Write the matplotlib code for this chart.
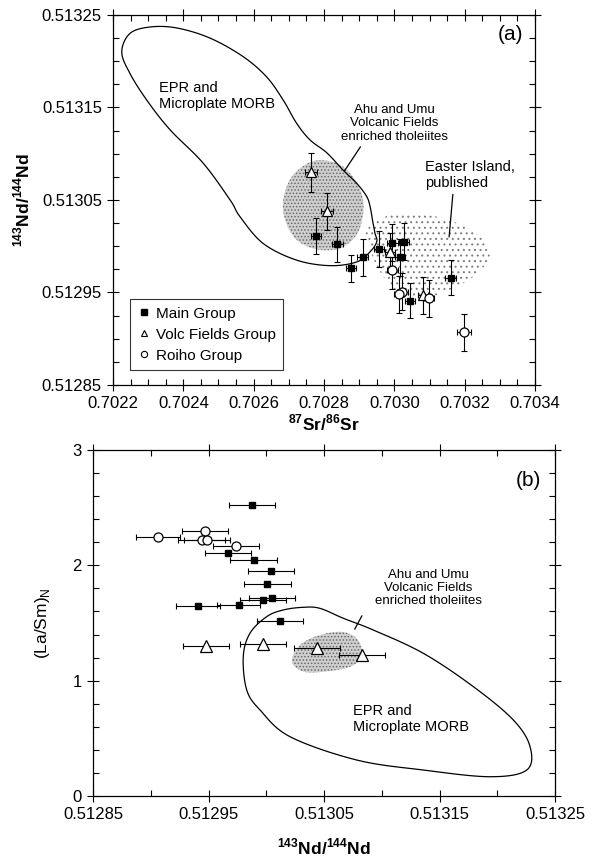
import numpy as np
import matplotlib
matplotlib.use("Agg")
import matplotlib.pyplot as plt
from matplotlib.patches import Polygon
from matplotlib.lines import Line2D
from matplotlib.ticker import MultipleLocator, FixedLocator, FormatStrFormatter

# ---- panel (a): 87Sr/86Sr vs 143Nd/144Nd ----
main_sr = [0.702777, 0.702838, 0.702910, 0.702877, 0.702957, 0.702994, 0.703027, 0.703016, 0.703044, 0.703160]
main_nd_a = [0.513011, 0.513002, 0.512988, 0.512976, 0.512997, 0.513004, 0.513005, 0.512988, 0.512941, 0.512966]
main_sr_err = [0.000015] * 10
main_nd_err_a = [0.000019, 0.000019, 0.00002, 0.000015, 0.00002, 0.00002, 0.00002, 0.00002, 0.000019, 0.000019]

volc_sr = [0.702762, 0.702809, 0.702988, 0.703082]
volc_nd_a = [0.513080, 0.513038, 0.512994, 0.512947]
volc_sr_err = [0.000017, 0.000017, 0.000015, 0.000015]
volc_nd_err_a = [0.000021, 0.00002, 0.00002, 0.00002]

roiho_sr = [0.702994, 0.703023, 0.703013, 0.703098, 0.703198]
roiho_nd_a = [0.512974, 0.512951, 0.512948, 0.512944, 0.512907]
roiho_sr_err = [0.000015, 0.000015, 0.000015, 0.000015, 0.00002]
roiho_nd_err_a = [0.00002, 0.00002, 0.00002, 0.00002, 0.00002]

# field outlines (a)
epr_a_sr = [0.702225, 0.702248, 0.702305, 0.702381, 0.702476, 0.702570, 0.702637, 0.702684,
            0.702722, 0.702760, 0.702808, 0.702855, 0.702893, 0.702921, 0.702931, 0.702938,
            0.702945, 0.702950, 0.702931, 0.702893, 0.702817, 0.702722, 0.702627, 0.702561,
            0.702533, 0.702456, 0.702362, 0.702296, 0.702248]
epr_a_nd = [0.513210, 0.513230, 0.513237, 0.513236, 0.513225, 0.513205, 0.513183, 0.513158,
            0.513133, 0.513115, 0.513101, 0.513082, 0.513068, 0.513054, 0.513043, 0.513028,
            0.513014, 0.513005, 0.512994, 0.512983, 0.512979, 0.512985, 0.513003, 0.513032,
            0.513050, 0.513090, 0.513126, 0.513158, 0.513187]
ahu_a_sr = [0.702683, 0.702703, 0.702746, 0.702789, 0.702846, 0.702888, 0.702911, 0.702908,
            0.702888, 0.702846, 0.702789, 0.702732, 0.702698]
ahu_a_nd = [0.513045, 0.513072, 0.513088, 0.513093, 0.513088, 0.513072, 0.513050, 0.513028,
            0.513010, 0.512998, 0.512996, 0.513004, 0.513020]
easter_sr = [0.702919, 0.702945, 0.702993, 0.703073, 0.703158, 0.703229, 0.703269, 0.703264,
             0.703221, 0.703158, 0.703087, 0.703030, 0.702988, 0.702954, 0.702931]
easter_nd = [0.513015, 0.513026, 0.513034, 0.513035, 0.513028, 0.513015, 0.512999, 0.512983,
             0.512966, 0.512953, 0.512944, 0.512946, 0.512958, 0.512976, 0.512996]

# ---- panel (b): 143Nd/144Nd vs (La/Sm)N ----
main_nd_b = [0.512988, 0.512967, 0.512989, 0.513004, 0.513001, 0.513005, 0.512997, 0.512976, 0.512941, 0.513012]
main_lasm = [2.52, 2.11, 2.05, 1.95, 1.84, 1.72, 1.70, 1.66, 1.65, 1.52]
main_nd_err_b = [0.00002, 0.00002, 0.00002, 0.00002, 0.00002, 0.00002, 0.00002, 0.000019, 0.000019, 0.00002]

volc_nd_b = [0.512948, 0.512997, 0.513044, 0.513083]
volc_lasm = [1.30, 1.32, 1.28, 1.22]
volc_nd_err_b = [0.00002, 0.00002, 0.00002, 0.00002]

roiho_nd_b = [0.512906, 0.512947, 0.512944, 0.512949, 0.512974]
roiho_lasm = [2.25, 2.30, 2.22, 2.22, 2.17]
roiho_nd_err_b = [0.000019, 0.00002, 0.00002, 0.00002, 0.00002]

epr_b_nd = [0.513032, 0.5130465, 0.5130667, 0.5130927, 0.513136, 0.5131793, 0.5132139, 0.5132284,
            0.5132255, 0.5131937, 0.513136, 0.5130783, 0.5130206, 0.5129946, 0.5129831, 0.5129801,
            0.5129859, 0.5130004, 0.5130148]
epr_b_lasm = [1.636, 1.627, 1.541, 1.439, 1.237, 0.948, 0.659, 0.427,
              0.225, 0.167, 0.225, 0.312, 0.514, 0.746, 0.919, 1.208,
              1.411, 1.555, 1.613]
ahu_b_nd = [0.5130223, 0.5130292, 0.5130465, 0.5130665, 0.5130794, 0.5130829, 0.5130742, 0.5130552, 0.5130335]
ahu_b_lasm = [1.162, 1.309, 1.396, 1.422, 1.353, 1.223, 1.127, 1.084, 1.075]

plt.rcParams['font.family'] = ['Liberation Sans', 'DejaVu Sans']
plt.rcParams['mathtext.fontset'] = 'custom'
plt.rcParams['mathtext.rm'] = 'Liberation Sans'
plt.rcParams['mathtext.bf'] = 'Liberation Sans:bold'
plt.rcParams['hatch.linewidth'] = 0.7


def smooth_closed(xs, ys, n=16):
    # closed Catmull-Rom curve through the outline vertices
    p = np.column_stack([xs, ys])
    m = len(p)
    t = np.linspace(0, 1, n, endpoint=False)[:, None]
    out = []
    for i in range(m):
        p0, p1, p2, p3 = p[i - 1], p[i], p[(i + 1) % m], p[(i + 2) % m]
        out.append(0.5 * ((2 * p1) + (-p0 + p2) * t + (2 * p0 - 5 * p1 + 4 * p2 - p3) * t ** 2
                          + (-p0 + 3 * p1 - 3 * p2 + p3) * t ** 3))
    return np.vstack(out)


def style_axes(ax):
    ax.tick_params(which='both', top=True, right=True, labelsize=12, width=0.8)
    ax.tick_params(which='major', direction='inout', length=9)
    ax.tick_params(which='minor', direction='in', length=4)
    for s in ax.spines.values():
        s.set_linewidth(0.9)


fig = plt.figure(figsize=(5.95, 8.57), dpi=100)
ax1 = fig.add_axes([0.1899, 0.5508, 0.7093, 0.4317])
ax2 = fig.add_axes([0.1563, 0.0712, 0.7765, 0.4037])

eb = dict(fmt='none', ecolor='black', elinewidth=0.8, capsize=2.5, capthick=0.8, zorder=3)

# ---------------- (a) ----------------
ax1.add_patch(Polygon(smooth_closed(easter_sr, easter_nd), closed=True, facecolor='white',
                      edgecolor='#7a7a7a', linewidth=0, hatch='...', zorder=1))
ax1.add_patch(Polygon(smooth_closed(ahu_a_sr, ahu_a_nd), closed=True, facecolor='#cfcfcf',
                      edgecolor='#6a6a6a', linewidth=0, hatch='.....', zorder=1))
ax1.add_patch(Polygon(smooth_closed(epr_a_sr, epr_a_nd), closed=True, fill=False,
                      edgecolor='black', linewidth=0.9, zorder=2))

ax1.errorbar(main_sr, main_nd_a, xerr=main_sr_err, yerr=main_nd_err_a, **eb)
ax1.errorbar(volc_sr, volc_nd_a, xerr=volc_sr_err, yerr=volc_nd_err_a, **eb)
ax1.errorbar(roiho_sr, roiho_nd_a, xerr=roiho_sr_err, yerr=roiho_nd_err_a, **eb)
ax1.plot(main_sr, main_nd_a, 's', ms=5, mfc='black', mec='black', ls='none', zorder=4)
ax1.plot(volc_sr, volc_nd_a, '^', ms=7, mfc='white', mec='black', mew=0.9, ls='none', zorder=4)
ax1.plot(roiho_sr, roiho_nd_a, 'o', ms=6.5, mfc='white', mec='black', mew=0.9, ls='none', zorder=4)

ax1.set_xlim(0.7022, 0.7034)
ax1.set_ylim(0.51285, 0.51325)
ax1.xaxis.set_major_locator(FixedLocator([0.7022, 0.7024, 0.7026, 0.7028, 0.7030, 0.7032, 0.7034]))
ax1.xaxis.set_minor_locator(MultipleLocator(0.00005))
ax1.yaxis.set_major_locator(FixedLocator([0.51285, 0.51295, 0.51305, 0.51315, 0.51325]))
ax1.yaxis.set_minor_locator(MultipleLocator(0.000025))
ax1.xaxis.set_major_formatter(FormatStrFormatter('%.4f'))
ax1.yaxis.set_major_formatter(FormatStrFormatter('%.5f'))
style_axes(ax1)

ax1.set_xlabel(r'$^{\mathbf{87}}$Sr/$^{\mathbf{86}}$Sr', fontsize=12.5, fontweight='bold')
ax1.set_ylabel(r'$^{\mathbf{143}}$Nd/$^{\mathbf{144}}$Nd', fontsize=12.5, fontweight='bold')
ax1.xaxis.set_label_coords(0.5, -0.075)
ax1.yaxis.set_label_coords(-0.192, 0.5)

ax1.text(0.941, 0.946, '(a)', transform=ax1.transAxes, fontsize=15, ha='center', va='center')
ax1.text(0.702331, 0.513162, 'EPR and\nMicroplate MORB', fontsize=10.5, ha='left', va='center')
ax1.text(0.7030, 0.513133, 'Ahu and Umu\nVolcanic Fields\nenriched tholeiites', fontsize=9.5,
         ha='center', va='center', linespacing=1.15)
ax1.annotate('', xy=(0.702854, 0.513079), xytext=(0.702908, 0.51311),
             arrowprops=dict(arrowstyle='-', lw=0.9, color='black'))
ax1.text(0.703087, 0.513077, 'Easter Island,\npublished', fontsize=10.5, ha='left', va='center')
ax1.annotate('', xy=(0.703155, 0.513007), xytext=(0.703167, 0.513059),
             arrowprops=dict(arrowstyle='-', lw=0.9, color='black'))

handles = [Line2D([], [], marker='s', ms=4.5, mfc='black', mec='black', ls='none'),
           Line2D([], [], marker='^', ms=5, mfc='white', mec='black', mew=0.8, ls='none'),
           Line2D([], [], marker='o', ms=4.5, mfc='white', mec='black', mew=0.8, ls='none')]
leg = ax1.legend(handles, ['Main Group', 'Volc Fields Group', 'Roiho Group'],
                 loc='lower left', bbox_to_anchor=(0.04, 0.04), borderaxespad=0,
                 fontsize=11, frameon=True, fancybox=False, edgecolor='black',
                 handlelength=0.8, handletextpad=0.4, labelspacing=0.45, borderpad=0.5)
leg.get_frame().set_linewidth(0.8)

# ---------------- (b) ----------------
ax2.add_patch(Polygon(smooth_closed(ahu_b_nd, ahu_b_lasm), closed=True, facecolor='#cfcfcf',
                      edgecolor='#6a6a6a', linewidth=0, hatch='.....', zorder=1))
ax2.add_patch(Polygon(smooth_closed(epr_b_nd, epr_b_lasm), closed=True, fill=False,
                      edgecolor='black', linewidth=0.9, zorder=2))

ax2.errorbar(main_nd_b, main_lasm, xerr=main_nd_err_b, **eb)
ax2.errorbar(volc_nd_b, volc_lasm, xerr=volc_nd_err_b, **eb)
ax2.errorbar(roiho_nd_b, roiho_lasm, xerr=roiho_nd_err_b, **eb)
ax2.plot(main_nd_b, main_lasm, 's', ms=5, mfc='black', mec='black', ls='none', zorder=4)
ax2.plot(volc_nd_b, volc_lasm, '^', ms=8, mfc='white', mec='black', mew=0.9, ls='none', zorder=4)
ax2.plot(roiho_nd_b, roiho_lasm, 'o', ms=6.5, mfc='white', mec='black', mew=0.9, ls='none', zorder=4)

ax2.set_xlim(0.51285, 0.51325)
ax2.set_ylim(0, 3)
ax2.xaxis.set_major_locator(FixedLocator([0.51285, 0.51295, 0.51305, 0.51315, 0.51325]))
ax2.xaxis.set_minor_locator(MultipleLocator(0.00005))
ax2.yaxis.set_major_locator(FixedLocator([0, 1, 2, 3]))
ax2.yaxis.set_minor_locator(MultipleLocator(0.2))
ax2.xaxis.set_major_formatter(FormatStrFormatter('%.5f'))
ax2.yaxis.set_major_formatter(FormatStrFormatter('%d'))
style_axes(ax2)

ax2.set_xlabel(r'$^{\mathbf{143}}$Nd/$^{\mathbf{144}}$Nd', fontsize=12.5, fontweight='bold')
ax2.set_ylabel(r'(La/Sm)$_{\mathrm{N}}$', fontsize=12.5)
ax2.xaxis.set_label_coords(0.5, -0.118)
ax2.yaxis.set_label_coords(-0.089, 0.5)

ax2.text(0.942, 0.913, '(b)', transform=ax2.transAxes, fontsize=15, ha='center', va='center')
ax2.text(0.5131403, 1.804, 'Ahu and Umu\nVolcanic Fields\nenriched tholeiites', fontsize=9.5,
         ha='center', va='center', linespacing=1.15)
ax2.annotate('', xy=(0.5130754, 1.425), xytext=(0.513084, 1.584),
             arrowprops=dict(arrowstyle='-', lw=0.9, color='black'))
ax2.text(0.5130754, 0.668, 'EPR and\nMicroplate MORB', fontsize=10.5, ha='left', va='center')

fig.savefig('out.png', dpi=100)
